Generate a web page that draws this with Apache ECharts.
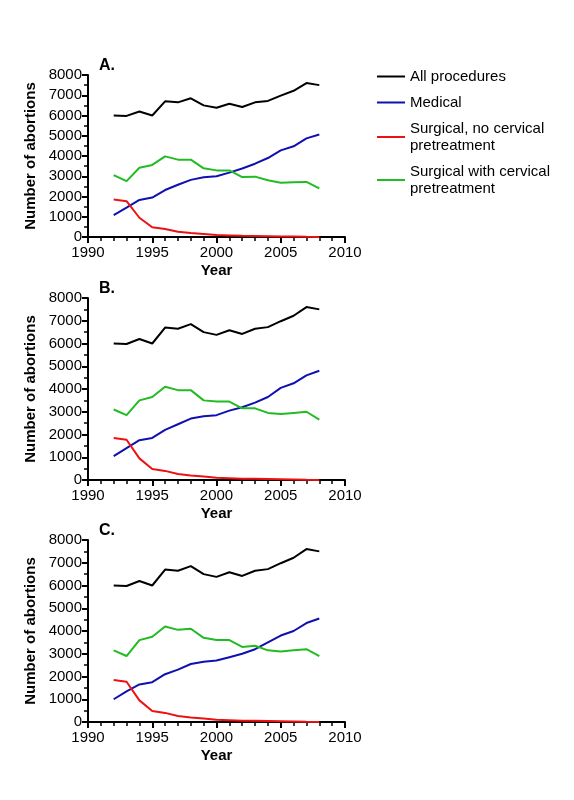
<!DOCTYPE html>
<html>
<head>
<meta charset="utf-8">
<script src="https://cdn.jsdelivr.net/npm/echarts@6/dist/echarts.min.js"></script>
<style>html,body{margin:0;padding:0;background:#fff}#chart{width:574px;height:800px}</style>
</head>
<body>
<div id="chart"></div>
<script>
var years = [1992,1993,1994,1995,1996,1997,1998,1999,2000,2001,2002,2003,2004,2005,2006,2007,2008];
var allProc = [6000,5980,6200,6000,6700,6650,6850,6500,6380,6580,6420,6650,6720,6980,7220,7600,7500];
var surgNoPre = [1850,1770,950,480,400,260,200,150,100,80,60,50,40,30,20,10,5];
var medicalA = [1080,1450,1830,1950,2320,2580,2820,2950,3000,3180,3380,3620,3900,4280,4480,4870,5060];
var surgPreA = [3060,2760,3420,3560,3980,3820,3820,3390,3290,3290,2960,2980,2800,2680,2700,2720,2400];
var medicalB = [1050,1400,1750,1850,2200,2450,2700,2800,2850,3050,3200,3400,3650,4050,4250,4600,4800];
var surgPreB = [3100,2850,3500,3650,4100,3950,3950,3500,3450,3450,3150,3150,2950,2900,2950,3000,2650];
var medicalC = [1000,1350,1650,1750,2100,2300,2550,2650,2700,2850,3000,3200,3500,3800,4000,4350,4550];
var surgPreC = [3150,2900,3600,3750,4200,4050,4100,3700,3600,3600,3300,3350,3150,3100,3150,3200,2900];
var names = ['All procedures','Medical','Surgical, no cervical\npretreatment','Surgical with cervical\npretreatment'];
var colors = ['#000000','#1010b0','#ee1111','#22bb22'];
var panels = [
  {label:'A.', top:75, height:162, med:medicalA, pre:surgPreA},
  {label:'B.', top:298, height:182, med:medicalB, pre:surgPreB},
  {label:'C.', top:540, height:182, med:medicalC, pre:surgPreC}
];
function pairs(v){ return years.map(function(y,i){ return [y, v[i]]; }); }
function plain(v){ return String(v); }

var chart = echarts.init(document.getElementById('chart'));
var grids=[], xAxes=[], yAxes=[], series=[], titles=[];
panels.forEach(function(p, k){
  grids.push({left:88, width:257, top:p.top, height:p.height});
  titles.push({text:p.label, left:94, top:p.top-22, textStyle:{fontSize:16, fontWeight:'bold', fontFamily:'Liberation Sans', color:'#000'}});
  var axisLine = {lineStyle:{color:'#000', width:2}};
  xAxes.push({gridIndex:k, type:'value', min:1990, max:2010, interval:5, name:'Year', nameLocation:'middle', nameGap:26,
    nameTextStyle:{fontSize:15, fontWeight:'bold', color:'#000', fontFamily:'Liberation Sans'},
    axisLine:axisLine, axisTick:{length:6, lineStyle:{color:'#000', width:2}},
    minorTick:{show:true, splitNumber:5, length:4, lineStyle:{color:'#000', width:1.5}},
    splitLine:{show:false}, axisLabel:{fontSize:15, color:'#000', fontFamily:'Liberation Sans', formatter:plain}});
  yAxes.push({gridIndex:k, type:'value', min:0, max:8000, interval:1000, name:'Number of abortions', nameLocation:'middle', nameGap:50,
    nameTextStyle:{fontSize:15, fontWeight:'bold', color:'#000', fontFamily:'Liberation Sans'},
    axisLine:Object.assign({show:true}, axisLine), axisTick:{show:true, length:6, lineStyle:{color:'#000', width:2}},
    minorTick:{show:true, splitNumber:2, length:4, lineStyle:{color:'#000', width:1.5}},
    splitLine:{show:false}, axisLabel:{fontSize:15, color:'#000', fontFamily:'Liberation Sans', margin:6, formatter:plain}});
  var vals = [allProc, p.med, surgNoPre, p.pre];
  vals.forEach(function(v, j){
    series.push({name:names[j], type:'line', xAxisIndex:k, yAxisIndex:k, data:pairs(v), symbol:'none',
      lineStyle:{color:colors[j], width:2}, itemStyle:{color:colors[j]}, z:j===0?3:2});
  });
});

var option = {
  animation:false,
  title:titles,
  legend:{orient:'vertical', left:372, top:63, itemWidth:28, itemHeight:2, itemGap:9, icon:'rect',
    data:names, textStyle:{fontSize:15, color:'#000', fontFamily:'Liberation Sans', lineHeight:17}},
  grid:grids, xAxis:xAxes, yAxis:yAxes, series:series
};
chart.setOption(option);
</script>
</body>
</html>
